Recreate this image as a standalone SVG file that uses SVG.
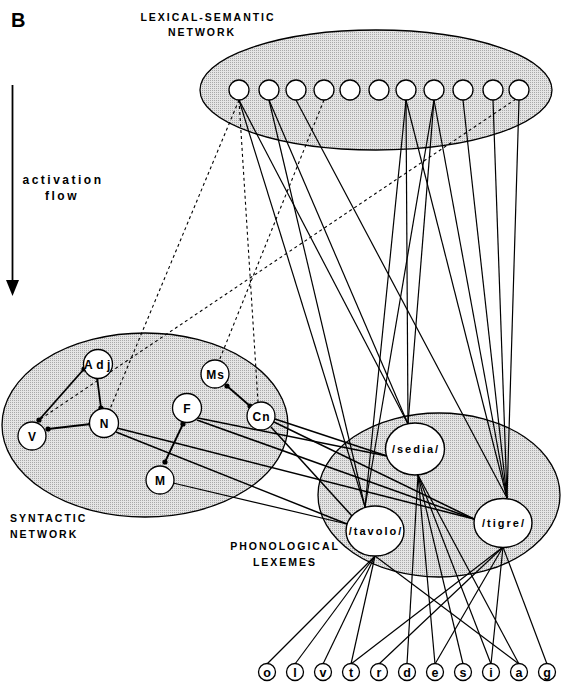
<svg xmlns="http://www.w3.org/2000/svg" width="561" height="686" viewBox="0 0 561 686">
<defs>
<pattern id="stip" width="2" height="2" patternUnits="userSpaceOnUse"><rect width="2" height="2" fill="#e4e4e4"/><rect width="1" height="1" fill="#a8a8a8"/></pattern>
</defs>
<style>
.net{fill:url(#stip);stroke:#000;stroke-width:1.3}
.n{fill:#fff;stroke:#000;stroke-width:1.3}
.lex{fill:#fff;stroke:#000;stroke-width:1.4}
.s{stroke:#000;stroke-width:1.2;fill:none}
.t{stroke:#000;stroke-width:1.5;fill:none}
.k{stroke:#000;stroke-width:1.8;fill:none}
.d{stroke:#000;stroke-width:1.1;stroke-dasharray:3,3;fill:none}
.dot{fill:#000}
text{font-family:"Liberation Sans",Arial,sans-serif;font-weight:bold;fill:#000}
.lbl{font-size:10.5px;letter-spacing:2px}
.sy{font-size:12px;text-anchor:middle}
.ph{font-size:11px;letter-spacing:2px;text-anchor:middle}
.lt{font-size:12.5px;text-anchor:middle}
</style>
<rect width="561" height="686" fill="#fff"/>

<g id="labels">
<text x="11" y="27" font-size="20">B</text>
<text class="lbl" x="208" y="21" text-anchor="middle">LEXICAL-SEMANTIC</text>
<text class="lbl" x="202" y="36" text-anchor="middle">NETWORK</text>
<text x="63" y="184" font-size="12" letter-spacing="2.5" text-anchor="middle">activation</text>
<text x="62" y="200" font-size="12" letter-spacing="2.5" text-anchor="middle">flow</text>
<text class="lbl" x="10" y="522">SYNTACTIC</text>
<text class="lbl" x="10" y="538">NETWORK</text>
<text class="lbl" x="285" y="550" text-anchor="middle">PHONOLOGICAL</text>
<text class="lbl" x="285" y="566" text-anchor="middle">LEXEMES</text>
</g>

<g id="activation-arrow">
<line x1="12.5" y1="85" x2="12.5" y2="282" stroke="#000" stroke-width="1.8"/>
<path d="M6,280 L19,280 L12.5,296 Z" fill="#000"/>
</g>

<g id="lexical-semantic-network"><ellipse class="net" cx="376" cy="90" rx="176" ry="60"/></g>
<g id="syntactic-network"><ellipse class="net" cx="145" cy="425" rx="143" ry="92"/></g>
<g id="phonological-lexemes"><ellipse class="net" cx="439" cy="495" rx="121" ry="82"/></g>

<g id="connectors">
<line class="d" x1="239" y1="100" x2="110" y2="409"/>
<line class="d" x1="239" y1="100" x2="258" y2="402"/>
<line class="d" x1="324" y1="100" x2="219" y2="361"/>
<line class="d" x1="516" y1="99" x2="39" y2="420"/>
<line class="s" x1="239" y1="100" x2="365" y2="507"/>
<line class="s" x1="239" y1="100" x2="408" y2="424"/>
<line class="s" x1="269" y1="100" x2="365" y2="507"/>
<line class="s" x1="269" y1="100" x2="408" y2="424"/>
<line class="s" x1="296" y1="100" x2="507" y2="498"/>
<line class="s" x1="406" y1="100" x2="365" y2="507"/>
<line class="s" x1="406" y1="100" x2="408" y2="424"/>
<line class="s" x1="406" y1="100" x2="507" y2="498"/>
<line class="s" x1="434" y1="100" x2="365" y2="507"/>
<line class="s" x1="434" y1="100" x2="408" y2="424"/>
<line class="s" x1="434" y1="100" x2="507" y2="498"/>
<line class="s" x1="463" y1="100" x2="507" y2="498"/>
<line class="s" x1="493" y1="100" x2="507" y2="498"/>
<line class="s" x1="519" y1="100" x2="507" y2="498"/>
<line class="k" x1="84" y1="369" x2="39" y2="420"/>
<line class="k" x1="97" y1="377" x2="101" y2="408"/>
<line class="k" x1="48" y1="429" x2="91" y2="424"/>
<line class="k" x1="227" y1="386" x2="250" y2="406"/>
<line class="k" x1="183" y1="424" x2="165" y2="462"/>
<line class="t" x1="275" y1="419" x2="387" y2="456"/>
<line class="t" x1="274" y1="422" x2="474" y2="519"/>
<line class="t" x1="271" y1="427" x2="352" y2="516"/>
<line class="t" x1="198" y1="418" x2="387" y2="456"/>
<line class="t" x1="197" y1="420" x2="474" y2="519"/>
<line class="t" x1="117" y1="428" x2="474" y2="519"/>
<line class="t" x1="116" y1="432" x2="347" y2="524"/>
<line class="s" x1="173" y1="483" x2="347" y2="524"/>
<line class="s" x1="375" y1="556" x2="267" y2="664"/>
<line class="s" x1="375" y1="556" x2="295" y2="664"/>
<line class="s" x1="375" y1="556" x2="323" y2="664"/>
<line class="s" x1="375" y1="556" x2="351" y2="664"/>
<line class="s" x1="375" y1="556" x2="519" y2="664"/>
<line class="s" x1="418" y1="475" x2="407" y2="664"/>
<line class="s" x1="418" y1="475" x2="435" y2="664"/>
<line class="s" x1="418" y1="475" x2="463" y2="664"/>
<line class="s" x1="418" y1="475" x2="491" y2="664"/>
<line class="s" x1="418" y1="475" x2="519" y2="664"/>
<line class="s" x1="503" y1="547" x2="351" y2="664"/>
<line class="s" x1="503" y1="547" x2="379" y2="664"/>
<line class="s" x1="503" y1="547" x2="435" y2="664"/>
<line class="s" x1="503" y1="547" x2="491" y2="664"/>
<line class="s" x1="503" y1="547" x2="547" y2="664"/>
<circle class="dot" cx="84" cy="369" r="2.6"/>
<circle class="dot" cx="39" cy="420" r="2.6"/>
<circle class="dot" cx="97" cy="377" r="2.6"/>
<circle class="dot" cx="101" cy="408" r="2.6"/>
<circle class="dot" cx="48" cy="429" r="2.6"/>
<circle class="dot" cx="91" cy="424" r="2.6"/>
<circle class="dot" cx="227" cy="386" r="2.6"/>
<circle class="dot" cx="250" cy="406" r="2.6"/>
<circle class="dot" cx="183" cy="424" r="2.6"/>
<circle class="dot" cx="165" cy="462" r="2.6"/>
</g>

<g id="lex1"><circle class="n" cx="239" cy="90" r="10"/></g>
<g id="lex2"><circle class="n" cx="269" cy="90" r="10"/></g>
<g id="lex3"><circle class="n" cx="296" cy="90" r="10"/></g>
<g id="lex4"><circle class="n" cx="324" cy="90" r="10"/></g>
<g id="lex5"><circle class="n" cx="350" cy="90" r="10"/></g>
<g id="lex6"><circle class="n" cx="379" cy="90" r="10"/></g>
<g id="lex7"><circle class="n" cx="406" cy="90" r="10"/></g>
<g id="lex8"><circle class="n" cx="434" cy="90" r="10"/></g>
<g id="lex9"><circle class="n" cx="463" cy="90" r="10"/></g>
<g id="lex10"><circle class="n" cx="493" cy="90" r="10"/></g>
<g id="lex11"><circle class="n" cx="519" cy="90" r="10"/></g>

<g id="node-adj"><circle class="n" cx="98" cy="364" r="14.5"/><text class="sy" x="99" y="368.5" letter-spacing="3.5">Adj</text></g>
<g id="node-v"><circle class="n" cx="32" cy="436" r="14"/><text class="sy" x="32" y="440.5">V</text></g>
<g id="node-n"><circle class="n" cx="104" cy="423" r="14.5"/><text class="sy" x="104" y="427.5">N</text></g>
<g id="node-ms"><circle class="n" cx="215" cy="374" r="14"/><text class="sy" x="215.5" y="378.5" letter-spacing="1">Ms</text></g>
<g id="node-cn"><circle class="n" cx="261" cy="416" r="14"/><text class="sy" x="261.5" y="420.5" letter-spacing="1">Cn</text></g>
<g id="node-f"><circle class="n" cx="187" cy="408" r="14.5"/><text class="sy" x="187" y="412.5">F</text></g>
<g id="node-m"><circle class="n" cx="160" cy="480" r="14"/><text class="sy" x="160" y="484.5">M</text></g>

<g id="lexeme-sedia"><ellipse class="lex" cx="415" cy="449" rx="29.5" ry="26"/><text class="ph" x="416" y="453">/sedia/</text></g>
<g id="lexeme-tavolo"><ellipse class="lex" cx="375" cy="531" rx="29" ry="25"/><text class="ph" x="376" y="535">/tavolo/</text></g>
<g id="lexeme-tigre"><ellipse class="lex" cx="503" cy="523" rx="29" ry="24.5"/><text class="ph" x="504" y="527">/tigre/</text></g>

<g id="ph-o"><circle class="n" cx="267" cy="672" r="8.5"/><text class="lt" x="267" y="676.5">o</text></g>
<g id="ph-l"><circle class="n" cx="295" cy="672" r="8.5"/><text class="lt" x="295" y="676.5">l</text></g>
<g id="ph-v"><circle class="n" cx="323" cy="672" r="8.5"/><text class="lt" x="323" y="676.5">v</text></g>
<g id="ph-t"><circle class="n" cx="351" cy="672" r="8.5"/><text class="lt" x="351" y="676.5">t</text></g>
<g id="ph-r"><circle class="n" cx="379" cy="672" r="8.5"/><text class="lt" x="379" y="676.5">r</text></g>
<g id="ph-d"><circle class="n" cx="407" cy="672" r="8.5"/><text class="lt" x="407" y="676.5">d</text></g>
<g id="ph-e"><circle class="n" cx="435" cy="672" r="8.5"/><text class="lt" x="435" y="676.5">e</text></g>
<g id="ph-s"><circle class="n" cx="463" cy="672" r="8.5"/><text class="lt" x="463" y="676.5">s</text></g>
<g id="ph-i"><circle class="n" cx="491" cy="672" r="8.5"/><text class="lt" x="491" y="676.5">i</text></g>
<g id="ph-a"><circle class="n" cx="519" cy="672" r="8.5"/><text class="lt" x="519" y="676.5">a</text></g>
<g id="ph-g"><circle class="n" cx="547" cy="672" r="8.5"/><text class="lt" x="547" y="676.5">g</text></g>
</svg>
